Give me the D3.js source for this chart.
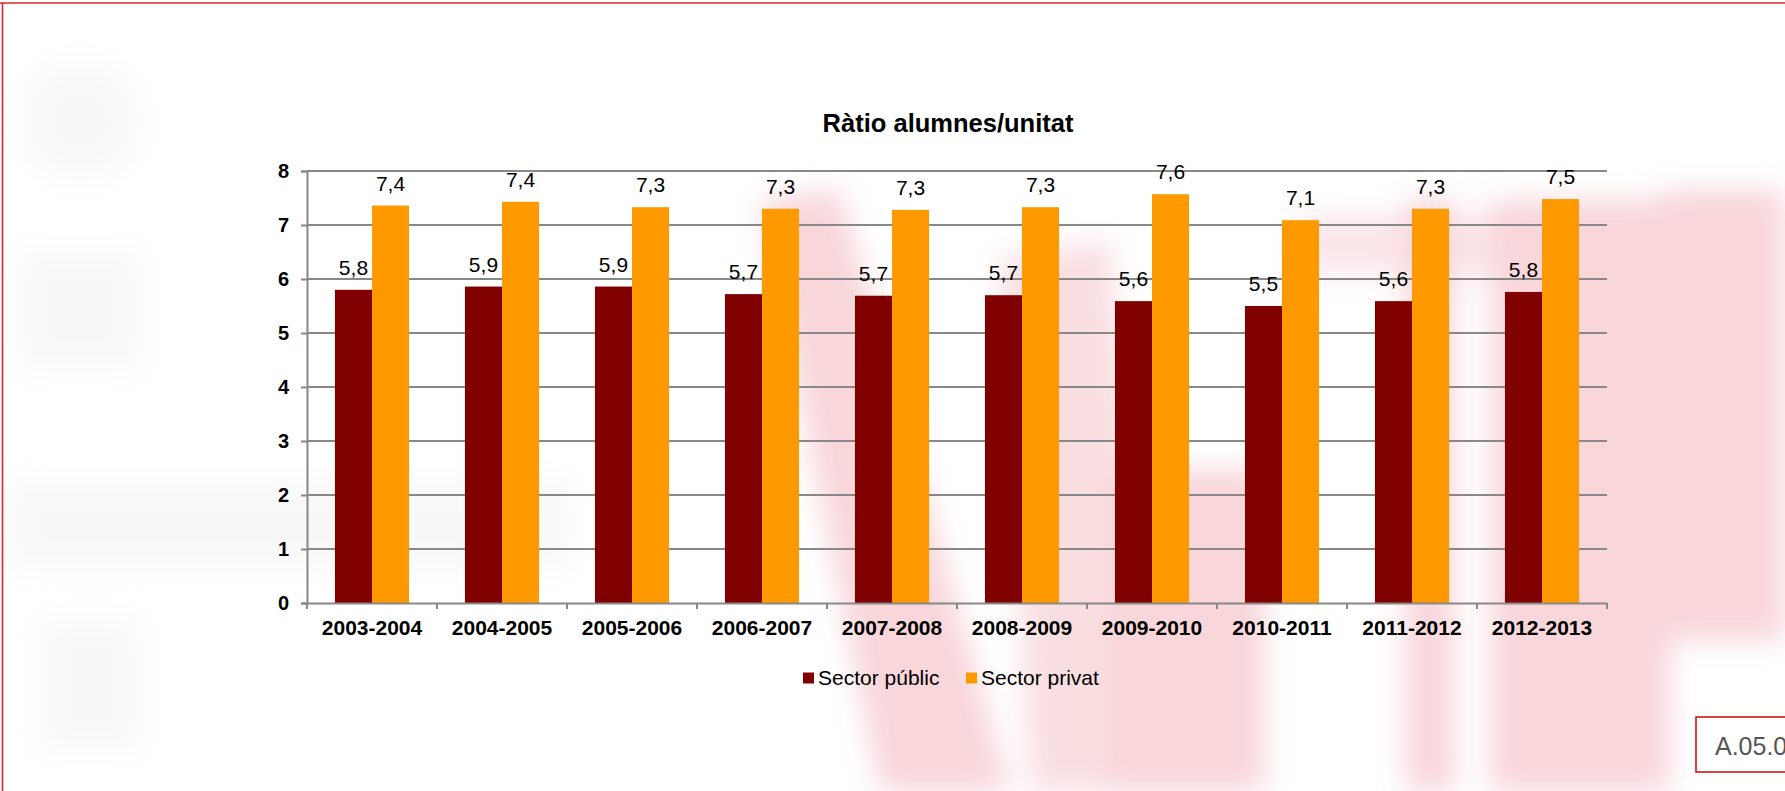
<!DOCTYPE html>
<html>
<head>
<meta charset="utf-8">
<script src="https://cdn.jsdelivr.net/npm/d3@7"></script>
<style>
  html, body { margin: 0; padding: 0; background: #fff; }
  svg { display: block; }
  text { font-family: "Liberation Sans", Arial, sans-serif; }
</style>
</head>
<body>
<svg id="chart" width="1785" height="791"></svg>
<script>
const categories = ["2003-2004","2004-2005","2005-2006","2006-2007","2007-2008","2008-2009","2009-2010","2010-2011","2011-2012","2012-2013"];
const seriesNames = ["Sector públic", "Sector privat"];
const publicValues = [5.80, 5.86, 5.86, 5.72, 5.69, 5.70, 5.59, 5.50, 5.59, 5.76];
const privateValues = [7.36, 7.43, 7.33, 7.30, 7.28, 7.33, 7.57, 7.09, 7.30, 7.48];
const yTicks = [0, 1, 2, 3, 4, 5, 6, 7, 8];
const colors = ["#800000", "#ff9900"];
const titleText = "Ràtio alumnes/unitat";
const codeText = "A.05.0";

const svg = d3.select("#chart");
const W = 1785, H = 791;

// ---- faded watermark background ----
const defs = svg.append("defs");
defs.append("filter").attr("id", "blur").attr("x", "-20%").attr("y", "-20%").attr("width", "140%").attr("height", "140%")
  .append("feGaussianBlur").attr("stdDeviation", 14);
const wm = svg.append("g").attr("filter", "url(#blur)");
const pink = "#f8d6da";
// pink shapes (right half)
wm.append("path").attr("fill", pink).attr("d", "M760,200 L840,190 L1010,791 L880,791 Z");
wm.append("path").attr("fill", pink).attr("opacity", 0.8).attr("d", "M1000,260 L1110,240 L1160,791 L1030,791 Z");
wm.append("rect").attr("fill", pink).attr("x", 1105).attr("y", 470).attr("width", 160).attr("height", 321);
wm.append("rect").attr("fill", pink).attr("x", 1405).attr("y", 200).attr("width", 50).attr("height", 591);
wm.append("rect").attr("fill", pink).attr("x", 1490).attr("y", 200).attr("width", 180).attr("height", 591);
wm.append("rect").attr("fill", pink).attr("x", 1660).attr("y", 190).attr("width", 125).attr("height", 450);
wm.append("rect").attr("fill", pink).attr("opacity", 0.6).attr("x", 1300).attr("y", 215).attr("width", 300).attr("height", 60);
// gray shapes (left)
const gwm = svg.append("g").attr("filter", "url(#blur)").attr("opacity", 0.35);
const gray = "#ececec";
gwm.append("circle").attr("fill", gray).attr("cx", 80).attr("cy", 120).attr("r", 60);
gwm.append("rect").attr("fill", gray).attr("x", 20).attr("y", 250).attr("width", 120).attr("height", 120);
gwm.append("rect").attr("fill", gray).attr("x", 10).attr("y", 480).attr("width", 560).attr("height", 90);
gwm.append("rect").attr("fill", gray).attr("x", 40).attr("y", 620).attr("width", 100).attr("height", 130);

// ---- frame ----
svg.append("line").attr("x1", 0).attr("x2", W).attr("y1", 3).attr("y2", 3).attr("stroke", "#d7262e").attr("stroke-width", 1.6);
svg.append("line").attr("x1", 2.5).attr("x2", 2.5).attr("y1", 3).attr("y2", H).attr("stroke", "#d7262e").attr("stroke-width", 1.6);

// ---- scales ----
const x0 = d3.scaleBand().domain(categories).range([307, 1607]).paddingInner(0.43).paddingOuter(0.215);
const x1 = d3.scaleBand().domain(seriesNames).range([0, x0.bandwidth()]);
const y = d3.scaleLinear().domain([0, 8]).range([603, 171]);

// gridlines
svg.append("g").selectAll("line").data(yTicks.filter(d => d > 0)).join("line")
  .attr("x1", 307).attr("x2", 1607)
  .attr("y1", d => y(d)).attr("y2", d => y(d))
  .attr("stroke", "#888").attr("stroke-width", 2);

// y axis
const yAxis = svg.append("g").attr("transform", "translate(307,0)")
  .call(d3.axisLeft(y).tickValues(yTicks).tickSize(6).tickPadding(12).tickFormat(d3.format("d")));
yAxis.select(".domain").attr("stroke", "#888").attr("stroke-width", 2);
yAxis.selectAll(".tick line").attr("stroke", "#888").attr("stroke-width", 2);
yAxis.selectAll(".tick text").attr("font-size", 20).attr("font-weight", "bold").attr("fill", "#000")
  .attr("font-family", "Liberation Sans, Arial, sans-serif");

// bars
const data = categories.map((c, i) => ({ cat: c, vals: [publicValues[i], privateValues[i]] }));
const groups = svg.append("g").selectAll("g").data(data).join("g")
  .attr("transform", d => `translate(${x0(d.cat)},0)`);
groups.selectAll("rect").data(d => d.vals.map((v, j) => ({ v, s: seriesNames[j], j }))).join("rect")
  .attr("x", d => x1(d.s)).attr("width", x1.bandwidth())
  .attr("y", d => y(d.v)).attr("height", d => y(0) - y(d.v))
  .attr("fill", d => colors[d.j]);
groups.selectAll("text").data(d => d.vals.map((v, j) => ({ v, s: seriesNames[j], j }))).join("text")
  .attr("x", d => x1(d.s) + x1.bandwidth() / 2)
  .attr("y", d => y(d.v) - 15)
  .attr("text-anchor", "middle").attr("font-size", 21).attr("fill", "#000")
  .text(d => d.v.toFixed(1).replace(".", ","));

// x axis
const xAxis = svg.append("g").attr("transform", "translate(0,603)")
  .call(d3.axisBottom(x0).tickSize(0).tickPadding(14));
xAxis.select(".domain").attr("stroke", "#888").attr("stroke-width", 2);
xAxis.selectAll(".tick text").attr("font-size", 21).attr("font-weight", "bold").attr("fill", "#000")
  .attr("font-family", "Liberation Sans, Arial, sans-serif").attr("dy", "0.88em");
// category boundary ticks
const bounds = categories.map(c => x0(c) - x0.step() * x0.paddingOuter()).concat([1607]);
svg.append("g").selectAll("line").data(bounds).join("line")
  .attr("x1", d => d).attr("x2", d => d).attr("y1", 603).attr("y2", 609)
  .attr("stroke", "#888").attr("stroke-width", 2);

// title
svg.append("text").attr("x", 948).attr("y", 132).attr("text-anchor", "middle")
  .attr("font-size", 25.5).attr("font-weight", "bold").attr("fill", "#000").text(titleText);

// legend
const legend = svg.append("g");
const legendX = [803, 966];
seriesNames.forEach((name, i) => {
  legend.append("rect").attr("x", legendX[i]).attr("y", 672.5).attr("width", 11).attr("height", 11).attr("fill", colors[i]);
  legend.append("text").attr("x", legendX[i] + 15).attr("y", 685).attr("font-size", 21).attr("fill", "#000").text(name);
});

// code box
svg.append("rect").attr("x", 1696).attr("y", 717).attr("width", 100).attr("height", 55)
  .attr("fill", "#fff").attr("stroke", "#d40000").attr("stroke-width", 1.5);
svg.append("text").attr("x", 1715).attr("y", 755).attr("font-size", 25).attr("fill", "#555").text(codeText);
</script>
</body>
</html>
